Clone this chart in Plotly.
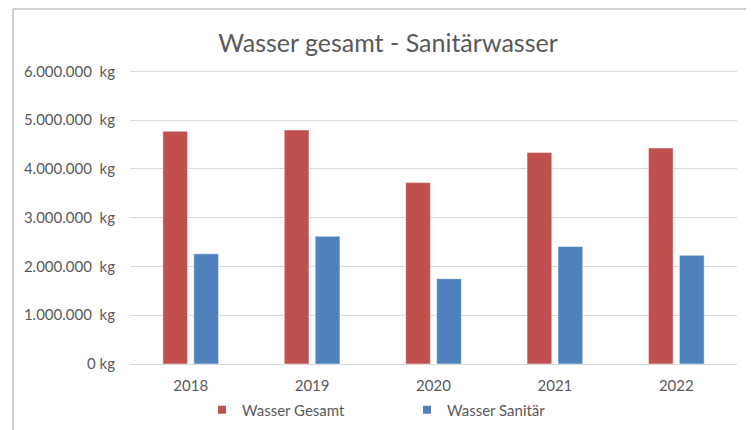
import plotly.graph_objects as go

years = ["2018", "2019", "2020", "2021", "2022"]
wasser_gesamt = [4775000, 4800000, 3720000, 4340000, 4430000]
wasser_sanitaer = [2260000, 2620000, 1750000, 2410000, 2230000]
tick_vals = [0, 1000000, 2000000, 3000000, 4000000, 5000000, 6000000]
tick_text = ["0 kg", "1.000.000  kg", "2.000.000  kg", "3.000.000  kg",
             "4.000.000  kg", "5.000.000  kg", "6.000.000  kg"]
series_names = ["Wasser Gesamt", "Wasser Sanitär"]
series_colors = ["#C0504D", "#4F81BD"]

# page has an 8px body margin: figure occupies page pixels 8..754, 8..430
OFF = 8
W, H = 754 - OFF, 430 - OFF
ml = 130 - OFF
mr = W - (737 - OFF)
mt = 61
mb = H - (364 - OFF)
pw, ph = W - ml - mr, H - mt - mb

def px(x):  # page pixel -> paper x
    return (x - OFF - ml) / pw

def py(y):  # page pixel -> paper y
    return (H - mb - (y - OFF)) / ph

font_family = "Lato, Open Sans, sans-serif"
grey = "#595959"

fig = go.Figure()
for vals, name, color in zip([wasser_gesamt, wasser_sanitaer], series_names, series_colors):
    fig.add_trace(go.Bar(x=years, y=vals, name=name, showlegend=False,
                         marker=dict(color=color, line=dict(color="rgba(255,255,255,0.5)", width=1))))
for name, color in zip(series_names, series_colors):
    fig.add_trace(go.Scatter(x=[None], y=[None], mode="markers", name=name,
                             marker=dict(symbol="square", size=8, color=color)))

fig.update_layout(
    width=W, height=H,
    margin=dict(l=ml, r=mr, t=mt, b=mb, autoexpand=False),
    paper_bgcolor="white", plot_bgcolor="white",
    barmode="group", bargap=0.49, bargroupgap=0.2,
    title=dict(text="Wasser gesamt - Sanitärwasser", x=(388 - OFF) / W, xanchor="center",
               y=1 - (43 - OFF) / H, yanchor="middle",
               font=dict(family=font_family, size=25, color=grey)),
    font=dict(family=font_family, size=15, color=grey),
    legend=dict(orientation="h", x=px(202), xanchor="left", y=py(410), yanchor="middle",
                entrywidth=160, entrywidthmode="pixels", itemwidth=30,
                font=dict(family=font_family, size=15, color=grey)),
    xaxis=dict(showgrid=False, showline=False, ticks="", ticklabelstandoff=11,
               tickfont=dict(family=font_family, size=15, color=grey)),
    yaxis=dict(range=[0, 6050000], tickvals=tick_vals, ticktext=tick_text,
               showgrid=True, gridcolor="#d9d9d9", gridwidth=1,
               zeroline=True, zerolinecolor="#d9d9d9", zerolinewidth=1,
               ticks="", ticklabelstandoff=14,
               tickfont=dict(family=font_family, size=15, color=grey)),
    shapes=[
        dict(type="line", xref="paper", yref="paper", x0=px(13), x1=px(754), y0=py(9), y1=py(9),
             line=dict(color="#bfbfbf", width=1.5)),
        dict(type="line", xref="paper", yref="paper", x0=px(13), x1=px(13), y0=py(9), y1=py(430),
             line=dict(color="#bfbfbf", width=1.5)),
    ],
)

fig.write_html("out.html")
